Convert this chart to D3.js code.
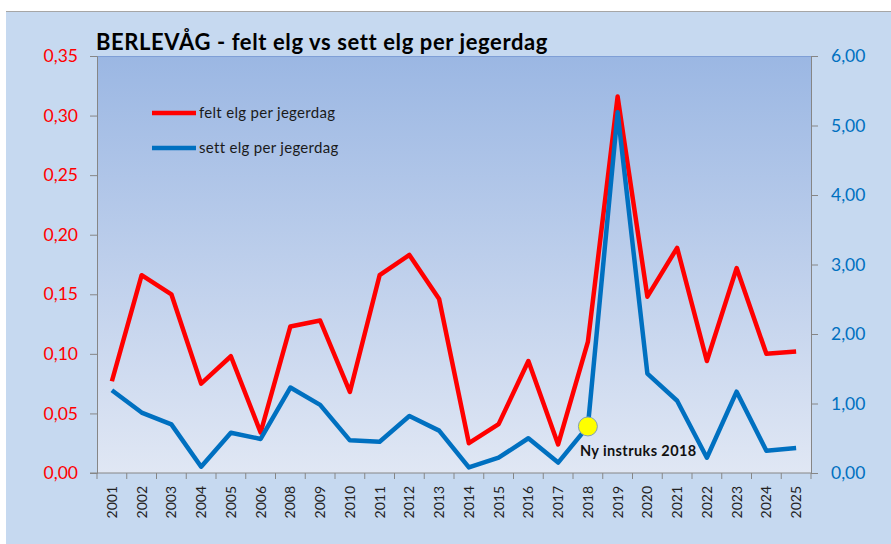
<!DOCTYPE html>
<html>
<head>
<meta charset="utf-8">
<script src="https://cdn.jsdelivr.net/npm/d3@7.9.0/dist/d3.min.js"></script>
<style>
  html, body { margin: 0; padding: 0; background: #fff; }
  svg { display: block; }
  text { font-family: Lato, "Open Sans", sans-serif; }
</style>
</head>
<body>
<svg id="chart" width="891" height="544"></svg>
<script>
// data
const years = ['2001','2002','2003','2004','2005','2006','2008','2009','2010','2011','2012','2013',
  '2014','2015','2016','2017','2018','2019','2020','2021','2022','2023','2024','2025'];
const felt = [0.077, 0.166, 0.150, 0.075, 0.098, 0.034, 0.123, 0.128, 0.068, 0.166, 0.183, 0.146,
  0.025, 0.041, 0.094, 0.024, 0.110, 0.316, 0.148, 0.189, 0.094, 0.172, 0.100, 0.102];
const sett = [1.19, 0.87, 0.70, 0.09, 0.58, 0.49, 1.23, 0.98, 0.47, 0.45, 0.82, 0.61,
  0.08, 0.22, 0.50, 0.15, 0.67, 5.19, 1.43, 1.04, 0.22, 1.17, 0.32, 0.36];
const leftTicks = [0, 0.05, 0.10, 0.15, 0.20, 0.25, 0.30, 0.35];
const rightTicks = [0, 1, 2, 3, 4, 5, 6];
const markYear = '2018';
const markLabel = 'Ny instruks 2018';

const svg = d3.select('#chart');
const m = { left: 97, right: 811, top: 56, bottom: 473 };

// outer chart background
svg.append('rect').attr('x', 6).attr('y', 11).attr('width', 885).attr('height', 533).attr('fill', '#c6d9f0');
svg.append('line').attr('x1', 6).attr('x2', 891).attr('y1', 11.5).attr('y2', 11.5).attr('stroke', '#a6a6a6');

const defs = svg.append('defs');
const grad = defs.append('linearGradient').attr('id', 'bg').attr('x1', 0).attr('y1', 0).attr('x2', 0).attr('y2', 1);
grad.append('stop').attr('offset', '0%').attr('stop-color', '#9bb7e3');
grad.append('stop').attr('offset', '100%').attr('stop-color', '#e0e7f4');

svg.append('rect')
  .attr('x', m.left).attr('y', m.top)
  .attr('width', m.right - m.left).attr('height', m.bottom - m.top)
  .attr('fill', 'url(#bg)');
svg.append('line').attr('x1', m.left).attr('x2', m.right).attr('y1', m.top + 0.5).attr('y2', m.top + 0.5)
  .attr('stroke', '#7f9fd6');

const x = d3.scaleBand().domain(years).range([m.left, m.right]);
const yL = d3.scaleLinear().domain([0, 0.35]).range([m.bottom, m.top]);
const yR = d3.scaleLinear().domain([0, 6]).range([m.bottom, m.top]);
const cx = (d) => x(d) + x.bandwidth() / 2;

const fmt = (digits) => (v) => d3.format(`.${digits}f`)(v).replace('.', ',');

// left axis
const gL = svg.append('g').attr('transform', `translate(${m.left},0)`)
  .call(d3.axisLeft(yL).tickValues(leftTicks).tickFormat(fmt(2)).tickSize(7).tickPadding(12));
gL.select('.domain').attr('stroke', '#868686');
gL.selectAll('.tick line').attr('stroke', '#868686');
gL.selectAll('.tick text').attr('fill', '#ff0000').attr('font-size', 17.5)
  .attr('font-family', 'Lato, "Open Sans", sans-serif');

// right axis
const gR = svg.append('g').attr('transform', `translate(${m.right},0)`)
  .call(d3.axisRight(yR).tickValues(rightTicks).tickFormat(fmt(2)).tickSize(7).tickPadding(13));
gR.select('.domain').attr('stroke', '#868686');
gR.selectAll('.tick line').attr('stroke', '#868686');
gR.selectAll('.tick text').attr('fill', '#0070c0').attr('font-size', 17.5)
  .attr('font-family', 'Lato, "Open Sans", sans-serif');

// x axis with boundary ticks
const gX = svg.append('g').attr('transform', `translate(0,${m.bottom})`);
gX.append('line').attr('x1', m.left - 7).attr('x2', m.right).attr('stroke', '#868686');
gX.selectAll('line.tk')
  .data(years.concat(['end']))
  .join('line')
  .attr('class', 'tk')
  .attr('x1', (d, i) => i < years.length ? x(d) : m.right)
  .attr('x2', (d, i) => i < years.length ? x(d) : m.right)
  .attr('y1', 0).attr('y2', 6)
  .attr('stroke', '#868686');
gX.selectAll('text')
  .data(years)
  .join('text')
  .attr('transform', (d) => `translate(${cx(d) + 5},13) rotate(-90)`)
  .attr('text-anchor', 'end')
  .attr('font-family', 'Arial, "Liberation Sans", sans-serif')
  .attr('font-size', 14)
  .attr('fill', '#222')
  .text((d) => d);

// lines
const lineL = d3.line().x((d, i) => cx(years[i])).y((d) => yL(d));
const lineR = d3.line().x((d, i) => cx(years[i])).y((d) => yR(d));

svg.append('path').datum(felt).attr('d', lineL)
  .attr('fill', 'none').attr('stroke', '#ff0000').attr('stroke-width', 4.5).attr('stroke-linejoin', 'round');
svg.append('path').datum(sett).attr('d', lineR)
  .attr('fill', 'none').attr('stroke', '#0070c0').attr('stroke-width', 4.5).attr('stroke-linejoin', 'round');

// marker + annotation
const mi = years.indexOf(markYear);
svg.append('circle').attr('cx', cx(markYear)).attr('cy', yR(sett[mi])).attr('r', 9.5)
  .attr('fill', '#ffff00').attr('stroke', '#7f9fb8').attr('stroke-width', 1);
svg.append('text').attr('x', cx(markYear) - 8).attr('y', 456)
  .attr('font-weight', 'bold').attr('font-size', 14.5).attr('letter-spacing', 0.4).attr('fill', '#111')
  .text(markLabel);

// title
svg.append('text').attr('x', 96).attr('y', 50)
  .attr('font-weight', 'bold').attr('font-size', 22).attr('letter-spacing', 0.6).attr('fill', '#000')
  .text('BERLEVÅG - felt elg vs sett elg per jegerdag');

// legend
const legendItems = [
  { label: 'felt elg per jegerdag', color: '#ff0000', y: 113 },
  { label: 'sett elg per jegerdag', color: '#0070c0', y: 148 }
];
const lg = svg.append('g');
lg.selectAll('line').data(legendItems).join('line')
  .attr('x1', 152).attr('x2', 196).attr('y1', (d) => d.y).attr('y2', (d) => d.y)
  .attr('stroke', (d) => d.color).attr('stroke-width', 4.5);
lg.selectAll('text').data(legendItems).join('text')
  .attr('x', 199).attr('y', (d) => d.y + 5)
  .attr('font-size', 15).attr('letter-spacing', 0.3).attr('fill', '#1a1a1a')
  .text((d) => d.label);
</script>
</body>
</html>
